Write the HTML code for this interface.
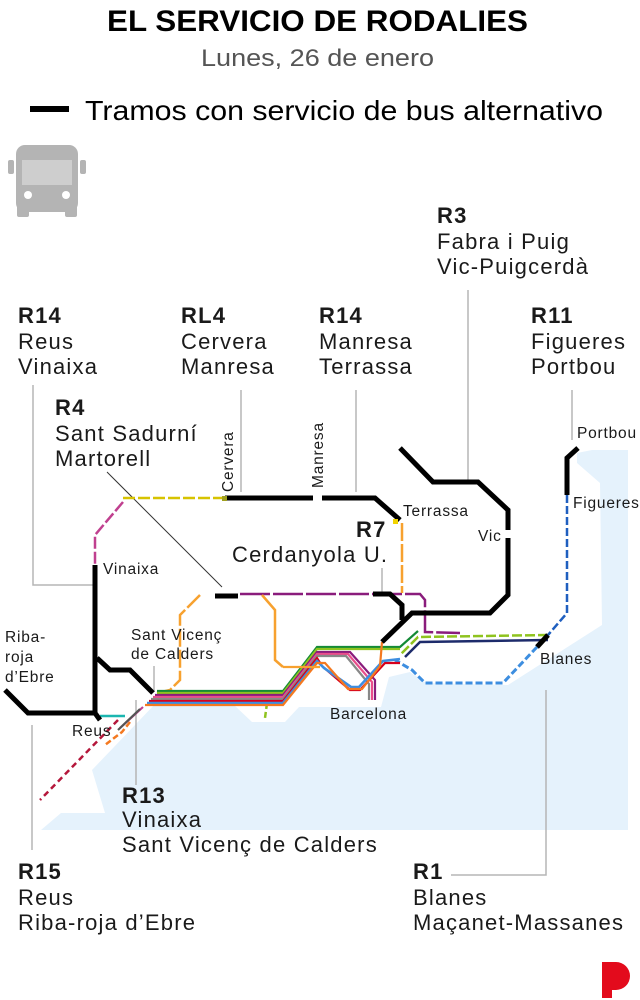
<!DOCTYPE html>
<html><head><meta charset="utf-8"><style>
html,body{margin:0;padding:0;background:#fff}
svg{display:block}
text{font-family:"Liberation Sans",sans-serif;fill:#1a1a1a}
.b{font-weight:bold}
.L{font-size:22px;letter-spacing:1.2px}
.s{font-size:15.5px;letter-spacing:0.8px}
</style></head><body>
<svg width="640" height="1000" viewBox="0 0 640 1000" xmlns="http://www.w3.org/2000/svg">
<text x="107" y="31" textLength="421" lengthAdjust="spacingAndGlyphs" class="b" font-size="30" style="fill:#000">EL SERVICIO DE RODALIES</text>
<text x="201" y="66" textLength="233" lengthAdjust="spacingAndGlyphs" font-size="24" style="fill:#555">Lunes, 26 de enero</text>
<rect x="30" y="106" width="39" height="6" fill="#000"/>
<text x="85" y="120" textLength="518" lengthAdjust="spacingAndGlyphs" font-size="28" style="fill:#000">Tramos con servicio de bus alternativo</text>
<!-- bus -->
<g fill="#b4b4b4">
<rect x="16" y="145" width="62" height="67" rx="9"/>
<rect x="8" y="160" width="6" height="14" rx="2"/><rect x="80" y="160" width="6" height="14" rx="2"/>
<rect x="17" y="205" width="12" height="12" rx="2"/><rect x="65" y="205" width="12" height="12" rx="2"/>
</g>
<rect x="22" y="160" width="50" height="25" fill="#fff" opacity=".35"/>
<circle cx="28" cy="195" r="4" fill="#fff"/><circle cx="66" cy="195" r="4" fill="#fff"/>
<!-- sea -->
<polygon fill="#e5f2fc" points="592,450 628,450 628,830 41,830 61,813 105,813 92,770 156,703 234,705 252,722 285,722 299,707 381,707 389,677 410,672 426,683 508,685 602,625 600,483 577,463 577,453"/>
<!-- leaders -->
<g stroke="#b5b5b5" stroke-width="1.5" fill="none">
<polyline points="33,385 33,585 95,585"/>
<line x1="241" y1="390" x2="241" y2="492"/>
<line x1="356" y1="390" x2="356" y2="492"/>
<line x1="468" y1="290" x2="468" y2="482"/>
<line x1="572" y1="390" x2="572" y2="440"/>
<line x1="382" y1="568" x2="382" y2="594"/>
<line x1="154" y1="666" x2="154" y2="692"/>
<line x1="136" y1="700" x2="136" y2="785"/>
<line x1="32" y1="725" x2="32" y2="850"/>
<polyline points="546,690 546,875 451,875"/>
</g>
<line x1="107" y1="472" x2="222" y2="587" stroke="#333" stroke-width="1"/>
<!-- colored lines -->
<g fill="none" stroke-width="2.5">
<polyline stroke="#d7c300" stroke-dasharray="12,3" points="123,498 225,498"/>
<polyline stroke="#c0408f" stroke-dasharray="12,3" points="123,502 95,535 95,565"/>
<polyline stroke="#8a1c7c" stroke-dasharray="30,3" points="240,594 420,594 425,600 425,632 460,633"/>
<polyline stroke="#f7a12f" stroke-dasharray="18,3" points="402,523 402,593"/>
<polyline stroke="#f7a12f" stroke-dasharray="18,3" points="200,595 180,615 180,680 170,690 157,693"/>
<polyline stroke="#f7a12f" points="262,595 275,610 275,660 283,667"/>
<polyline stroke="#8fc31f" stroke-dasharray="10,3" points="548,635 418,637 400,655"/>
<polyline stroke="#1d2b6b" points="548,640 420,642 405,657"/>
<polyline stroke="#1f5fbf" stroke-dasharray="8,3" points="567,495 567,613 548,635"/>
<polyline stroke="#3d8ee0" stroke-width="3" stroke-dasharray="7,3" points="537,647 503,683 425,683 412,670 395,660"/>
<polyline stroke="#b5173b" stroke-dasharray="6,4" points="118,720 40,800"/>
<polyline stroke="#8fc31f" stroke-dasharray="6,3" points="267,703 265,718"/>
<polyline stroke="#f47920" stroke-dasharray="6,3" points="130,722 122,732 105,745"/>
<polyline stroke="#1bb6b0" points="100,716 125,716"/>
</g>
<!-- main bundle -->
<g fill="none" stroke-width="2.2">
<polyline stroke="#138a36" points="157,691 283,691 317,647 400,647 418,631"/>
<polyline stroke="#8fc31f" points="157,693 283,693 317,649 400,649"/>
<polyline stroke="#8a1c7c" points="155,695 283,695 317,652 350,652 375,680 375,700"/>
<polyline stroke="#e94e8b" points="153,697 283,697 317,654 348,654 372,682 372,700"/>
<polyline stroke="#888" points="151,699 283,699 317,656 346,656 369,684 369,700"/>
<polyline stroke="#d6001c" points="149,701 283,701 317,658 322,666 350,690 360,690 385,663 400,663"/>
<polyline stroke="#3d8ee0" stroke-width="2.6" points="147,703 283,703 317,661 324,668 351,687 359,687 383,661 400,659"/>
<polyline stroke="#f47920" points="145,705 283,705 317,663 325,663 348,689 362,689 380,666 382,642"/>
<polyline stroke="#c0408f" points="143,707 120,728"/>
<polyline stroke="#555" points="140,709 118,730"/>
<polyline stroke="#f7a12f" points="283,667 320,667"/>
</g>
<!-- black bus lines -->
<g fill="none" stroke="#000" stroke-width="5" stroke-linejoin="miter">
<polyline points="225,498 313,498"/>
<polyline points="322,498 375,498 400,520"/>
<polyline points="400,448 433,482 478,482 508,510 508,530"/>
<polyline points="508,538 508,595 490,613 412,613 382,642"/>
<polyline points="373,594 390,594 402,605 402,620"/>
<line x1="215" y1="596" x2="238" y2="596"/>
<polyline points="95,565 95,713"/>
<polyline points="97,658 110,670 130,670 153,693"/>
<polyline points="5,690 28,713 95,713 100,720"/>
<polyline points="578,448 567,458 567,495"/>
<polyline points="537,647 548,635"/>
</g>
<rect x="222" y="496" width="5" height="5" fill="#a0a020"/>
<rect x="393" y="519" width="5" height="5" fill="#f2d400"/>
<!-- small labels -->
<text class="s" x="403" y="516">Terrassa</text>
<text class="s" x="478" y="541">Vic</text>
<text class="s" x="577" y="438">Portbou</text>
<text class="s" x="573" y="508">Figueres</text>
<text class="s" x="103" y="574">Vinaixa</text>
<text class="s" x="131" y="640">Sant Vicenç</text>
<text class="s" x="131" y="659">de Calders</text>
<text class="s" x="5" y="642">Riba-</text>
<text class="s" x="5" y="662">roja</text>
<text class="s" x="5" y="682">d’Ebre</text>
<text class="s" x="72" y="736">Reus</text>
<text class="s" x="330" y="719">Barcelona</text>
<text class="s" x="540" y="664">Blanes</text>
<text class="s" transform="translate(233,492) rotate(-90)">Cervera</text>
<text class="s" transform="translate(323,488) rotate(-90)">Manresa</text>
<!-- big labels -->
<g class="L">
<text class="b" x="18" y="323">R14</text><text x="18" y="349">Reus</text><text x="18" y="374">Vinaixa</text>
<text class="b" x="181" y="323">RL4</text><text x="181" y="349">Cervera</text><text x="181" y="374">Manresa</text>
<text class="b" x="319" y="323">R14</text><text x="319" y="349">Manresa</text><text x="319" y="374">Terrassa</text>
<text class="b" x="437" y="223">R3</text><text x="437" y="249">Fabra i Puig</text><text x="437" y="274">Vic-Puigcerdà</text>
<text class="b" x="531" y="323">R11</text><text x="531" y="349">Figueres</text><text x="531" y="374">Portbou</text>
<text class="b" x="55" y="415">R4</text><text x="55" y="441">Sant Sadurní</text><text x="55" y="466">Martorell</text>
<text class="b" x="356" y="537">R7</text><text x="232" y="562">Cerdanyola U.</text>
<text class="b" x="122" y="803">R13</text><text x="122" y="827">Vinaixa</text><text x="122" y="852">Sant Vicenç de Calders</text>
<text class="b" x="18" y="879">R15</text><text x="18" y="905">Reus</text><text x="18" y="930">Riba-roja d’Ebre</text>
<text class="b" x="413" y="879">R1</text><text x="413" y="905">Blanes</text><text x="413" y="930">Maçanet-Massanes</text>
</g>
<!-- logo -->
<path d="M602,962 H616 A14,14 0 0 1 616,990 H612 V998 H602 Z" fill="#e30b1c"/>
</svg>
</body></html>
